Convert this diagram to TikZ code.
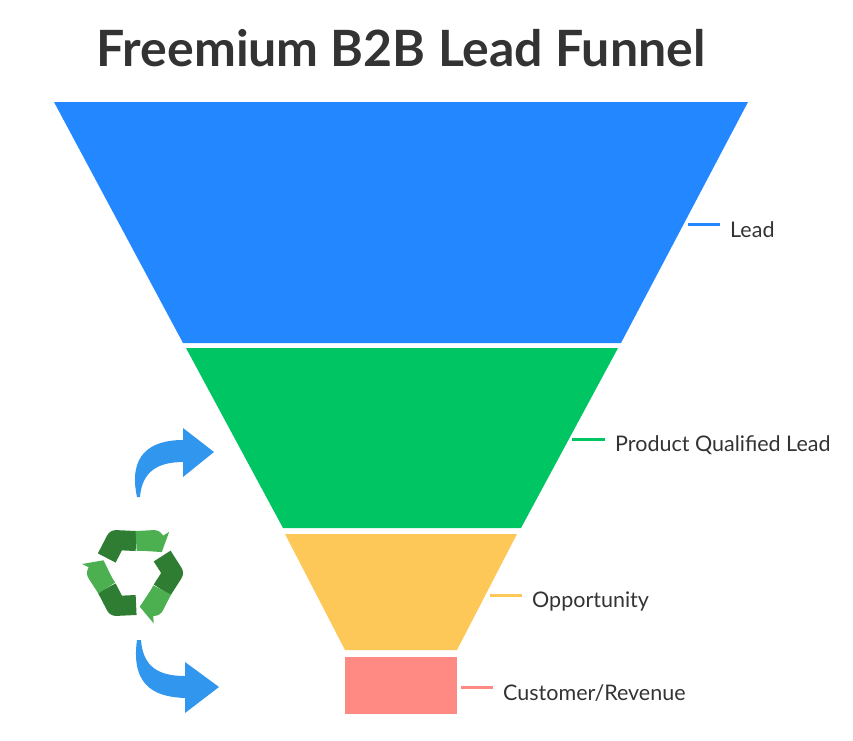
\documentclass[tikz,border=0pt]{standalone}
\usepackage{fontspec}
\setmainfont{Lato}
\usetikzlibrary{arrows.meta,calc}
\definecolor{fblue}{HTML}{2388FF}
\definecolor{fgreen}{HTML}{00C563}
\definecolor{fyellow}{HTML}{FDC857}
\definecolor{fpink}{HTML}{FF8A83}
\definecolor{txt}{HTML}{333333}
\definecolor{arr}{HTML}{3096EE}
\definecolor{rdark}{HTML}{2E7D32}
\definecolor{rlight}{HTML}{4CAF50}
\tikzset{lbl/.style={anchor=west,font=\fontsize{21.5}{24}\selectfont,text=txt,inner sep=0},
 tick/.style={line width=3pt}}
\begin{document}
\begin{tikzpicture}[x=1pt,y=-1pt]
\useasboundingbox (0,0) rectangle (853,740);
\node[font=\fontsize{50}{54}\bfseries\selectfont,text=txt] (title) at (401,48) {Freemium B2B Lead Funnel};
\fill[fblue] (54,102) -- (748,102) -- (621,343) -- (183,343) -- cycle;
\fill[fgreen] (186,348) -- (618,348) -- (521,528) -- (283,528) -- cycle;
\fill[fyellow] (285,534) -- (517,534) -- (457,650) -- (345,650) -- cycle;
\fill[fpink] (345,657) rectangle (457,714);
\coordinate (l1) at (688,224); \coordinate (l1e) at (720,224);
\draw[tick,fblue] (l1) -- (l1e); \node[lbl] (t1) at (730,230) {Lead};
\coordinate (l2) at (572,439); \coordinate (l2e) at (605,439);
\draw[tick,fgreen] (l2) -- (l2e); \node[lbl] (t2) at (615,445) {Product Qualified Lead};
\coordinate (l3) at (490,595); \coordinate (l3e) at (522,595);
\draw[tick,fyellow] (l3) -- (l3e); \node[lbl] (t3) at (532,601) {Opportunity};
\coordinate (l4) at (461,687); \coordinate (l4e) at (493,687);
\draw[tick,fpink] (l4) -- (l4e); \node[lbl] (t4) at (503,693) {Customer/Revenue};
% arrows
\fill[arr] (137,497) .. controls (128,455) and (150,440) .. (183,440) -- (183,428) -- (214,452) -- (183,477) -- (183,462) .. controls (160,462) and (142,470) .. (140,497) -- cycle;
\fill[arr] (137,640) .. controls (130,690) and (160,697) .. (185,698) -- (185,713) -- (219,687) -- (185,662) -- (185,676) .. controls (160,676) and (143,668) .. (141,640) -- cycle;
% recycle
\coordinate (rc) at (135,573);
\foreach \k in {0,120,240}{
 \draw[rdark,line width=20pt,line join=round] ($(rc)+(\k+208:32)$) -- ($(rc)+(\k+240:38)$) -- ($(rc)+(\k+272:32)$);
 \draw[rlight,line width=20pt,line join=round,-{Triangle[width=34pt,length=13pt]}] ($(rc)+(\k+272:32)$) -- ($(rc)+(\k+300:38)$) -- ($(rc)+(\k+322:34)$);
}
\end{tikzpicture}
\end{document}
